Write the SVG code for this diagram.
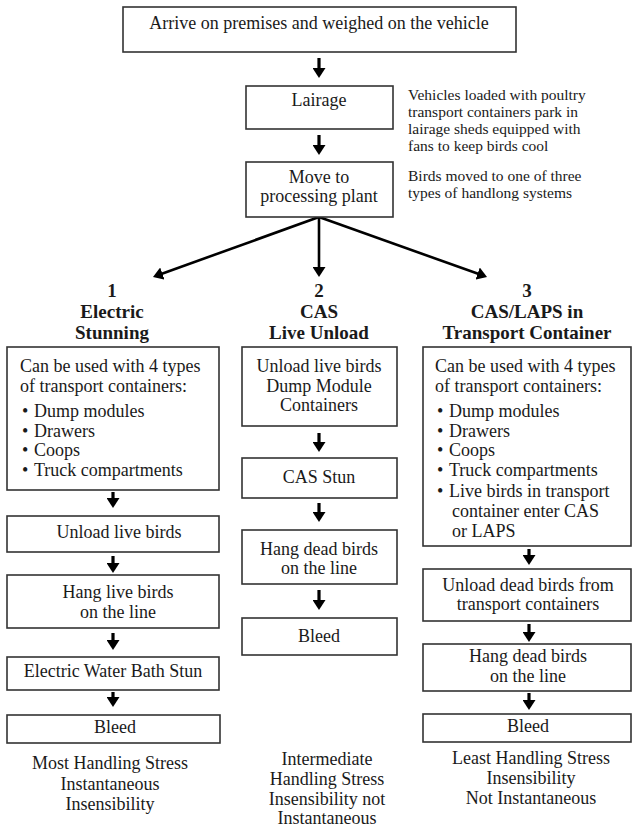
<svg xmlns="http://www.w3.org/2000/svg" width="632" height="829" viewBox="0 0 632 829">
<style>
text{font-family:"Liberation Serif","Times New Roman",serif;fill:#1a1a1a;font-size:18px}
.c{text-anchor:middle}
.s{font-size:15.5px}
.h{font-size:19px;font-weight:bold;text-anchor:middle}
rect{fill:#fff;stroke:#333;stroke-width:1.6}
.a{stroke:#000;stroke-width:3.2;fill:none;marker-end:url(#ah)}
.f{stroke:#000;stroke-width:2.6;fill:none;marker-end:url(#ah)}
</style>
<defs>
<marker id="ah" viewBox="0 0 10 13" refX="2" refY="6.5" markerWidth="10" markerHeight="13" markerUnits="userSpaceOnUse" orient="auto">
<path d="M0,0 L10,6.5 L0,13 z" fill="#000"/>
</marker>
</defs>
<rect x="0" y="0" width="632" height="829" style="fill:#fff;stroke:none"/>

<g id="connectors">
<line class="a" x1="319" y1="58" x2="319" y2="70"/>
<line class="a" x1="319" y1="135" x2="319" y2="147"/>
<line class="f" x1="319" y1="217" x2="160.5" y2="274.3"/>
<line class="f" x1="319" y1="217" x2="319" y2="269"/>
<line class="f" x1="319" y1="217" x2="479.5" y2="274.3"/>
<line class="a" x1="113" y1="492" x2="113" y2="500"/>
<line class="a" x1="113" y1="556" x2="113" y2="565"/>
<line class="a" x1="113" y1="633" x2="113" y2="642"/>
<line class="a" x1="113" y1="692" x2="113" y2="699"/>
<line class="a" x1="319" y1="433" x2="319" y2="444"/>
<line class="a" x1="319" y1="503" x2="319" y2="514"/>
<line class="a" x1="319" y1="590" x2="319" y2="602"/>
<line class="a" x1="529" y1="549" x2="529" y2="557"/>
<line class="a" x1="529" y1="624" x2="529" y2="634"/>
<line class="a" x1="529" y1="693" x2="529" y2="702"/>
</g>

<g id="arrive">
<rect x="123" y="7" width="393" height="45"/>
<text class="c" x="319" y="29">Arrive on premises and weighed on the vehicle</text>
</g>
<g id="lairage">
<rect x="246" y="86" width="147" height="43"/>
<text class="c" x="319" y="106">Lairage</text>
</g>
<g id="lairage-note">
<text class="s" x="408" y="100">Vehicles loaded with poultry</text>
<text class="s" x="408" y="117">transport containers park in</text>
<text class="s" x="408" y="134">lairage sheds equipped with</text>
<text class="s" x="408" y="151">fans to keep birds cool</text>
</g>
<g id="move">
<rect x="246" y="162" width="147" height="55"/>
<text class="c" x="319" y="183">Move to</text>
<text class="c" x="319" y="202">processing plant</text>
</g>
<g id="move-note">
<text class="s" x="408" y="181">Birds moved to one of three</text>
<text class="s" x="408" y="198">types of handlong systems</text>
</g>

<g id="head1">
<text class="h" x="112" y="297">1</text>
<text class="h" x="112" y="318">Electric</text>
<text class="h" x="112" y="339">Stunning</text>
</g>
<g id="head2">
<text class="h" x="319" y="297">2</text>
<text class="h" x="319" y="318">CAS</text>
<text class="h" x="319" y="339">Live Unload</text>
</g>
<g id="head3">
<text class="h" x="527" y="297">3</text>
<text class="h" x="527" y="318">CAS/LAPS in</text>
<text class="h" x="527" y="339">Transport Container</text>
</g>

<g id="l1">
<rect x="7" y="347" width="212" height="143"/>
<text x="20" y="372">Can be used with 4 types</text>
<text x="20" y="392">of transport containers:</text>
<text x="22" y="417">•</text><text x="34" y="417">Dump modules</text>
<text x="22" y="437">•</text><text x="34" y="437">Drawers</text>
<text x="22" y="456">•</text><text x="34" y="456">Coops</text>
<text x="22" y="476">•</text><text x="34" y="476">Truck compartments</text>
</g>
<g id="l2">
<rect x="7" y="516" width="212" height="36"/>
<text class="c" x="119" y="538">Unload live birds</text>
</g>
<g id="l3">
<rect x="7" y="575" width="212" height="53"/>
<text class="c" x="118" y="598">Hang live birds</text>
<text class="c" x="118" y="618">on the line</text>
</g>
<g id="l4">
<rect x="7" y="657" width="212" height="33"/>
<text class="c" x="113" y="677">Electric Water Bath Stun</text>
</g>
<g id="l5">
<rect x="7" y="715" width="213" height="28"/>
<text class="c" x="115" y="733">Bleed</text>
</g>
<g id="l-note">
<text class="c" x="110" y="769">Most Handling Stress</text>
<text class="c" x="110" y="790">Instantaneous</text>
<text class="c" x="110" y="810">Insensibility</text>
</g>

<g id="m1">
<rect x="242" y="347" width="155" height="79"/>
<text class="c" x="319" y="372">Unload live birds</text>
<text class="c" x="319" y="392">Dump Module</text>
<text class="c" x="319" y="411">Containers</text>
</g>
<g id="m2">
<rect x="242" y="458" width="155" height="40"/>
<text class="c" x="319" y="483">CAS Stun</text>
</g>
<g id="m3">
<rect x="242" y="530" width="155" height="54"/>
<text class="c" x="319" y="555">Hang dead birds</text>
<text class="c" x="319" y="574">on the line</text>
</g>
<g id="m4">
<rect x="242" y="618" width="155" height="37"/>
<text class="c" x="319" y="642">Bleed</text>
</g>
<g id="m-note">
<text class="c" x="327" y="765">Intermediate</text>
<text class="c" x="327" y="785">Handling Stress</text>
<text class="c" x="327" y="805">Insensibility not</text>
<text class="c" x="327" y="824">Instantaneous</text>
</g>

<g id="r1">
<rect x="423" y="347" width="208" height="199"/>
<text x="435" y="372">Can be used with 4 types</text>
<text x="435" y="392">of transport containers:</text>
<text x="437" y="417">•</text><text x="449" y="417">Dump modules</text>
<text x="437" y="437">•</text><text x="449" y="437">Drawers</text>
<text x="437" y="456">•</text><text x="449" y="456">Coops</text>
<text x="437" y="476">•</text><text x="449" y="476">Truck compartments</text>
<text x="437" y="497">•</text><text x="449" y="497">Live birds in transport</text>
<text x="452" y="517">container enter CAS</text>
<text x="452" y="537">or LAPS</text>
</g>
<g id="r2">
<rect x="423" y="569" width="208" height="52"/>
<text class="c" x="528" y="591">Unload dead birds from</text>
<text class="c" x="528" y="610">transport containers</text>
</g>
<g id="r3">
<rect x="423" y="644" width="208" height="47"/>
<text class="c" x="528" y="662">Hang dead birds</text>
<text class="c" x="528" y="682">on the line</text>
</g>
<g id="r4">
<rect x="423" y="714" width="208" height="28"/>
<text class="c" x="528" y="732">Bleed</text>
</g>
<g id="r-note">
<text class="c" x="531" y="764">Least Handling Stress</text>
<text class="c" x="531" y="784">Insensibility</text>
<text class="c" x="531" y="804">Not Instantaneous</text>
</g>
</svg>
